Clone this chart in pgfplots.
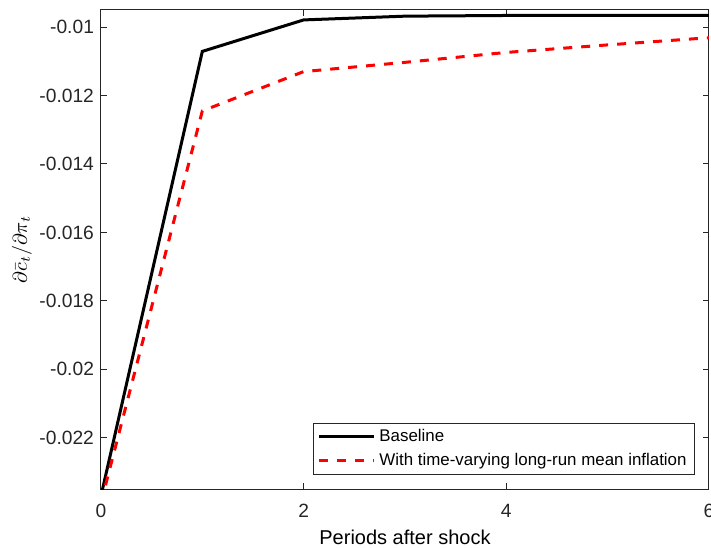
\documentclass[border=0pt]{standalone}
\usepackage{fontspec}
\setmainfont{Liberation Sans}
\usepackage{pgfplots}
\pgfplotsset{compat=1.18}
\definecolor{axgray}{rgb}{0.15,0.15,0.15}
\begin{document}
\begin{tikzpicture}
\begin{axis}[
  at={(0,0)}, anchor=south west,
  scale only axis,
  width=304pt, height=239.5pt,
  xmin=0, xmax=6, ymin=-0.0235, ymax=-0.0095,
  xtick={0,2,4,6},
  ytick={-0.022,-0.02,-0.018,-0.016,-0.014,-0.012,-0.01},
  scaled y ticks=false,
  yticklabel style={/pgf/number format/fixed, /pgf/number format/precision=3},
  xticklabel style={yshift=-4pt},
  /pgf/number format/assume math mode=true,
  tick label style={font=\fontsize{9.6}{11}\selectfont, text=axgray},
  tick align=inside,
  major tick length=3pt,
  axis line style={draw=axgray, line width=0.5pt},
  every tick/.style={draw=axgray, line width=0.5pt},
  xlabel={Periods after shock},
  xlabel style={font=\fontsize{9.4}{11}\selectfont, text=axgray},
  every axis x label/.style={at={(axis description cs:0.5,-0.1002)}, anchor=center},
  ylabel={$\partial\bar{c}_t/\partial\pi_t$},
  every axis y label/.style={at={(axis description cs:-0.13,0.5)}, anchor=center, rotate=90},
  ylabel style={font=\fontsize{10}{12}\selectfont},
  legend style={
    at={(1,0)}, anchor=south east, xshift=-7pt, yshift=7pt,
    font=\fontsize{8.45}{10}\selectfont,
    draw=axgray, line width=0.4pt,
    inner xsep=2pt, inner ysep=1pt,
    row sep=0.5pt,
    cells={anchor=west},
  },
  legend image code/.code={\draw[#1] plot coordinates {(0pt,0pt) (27.5pt,0pt)};},
]
\addplot[black, line width=1.5pt] coordinates {
(0,-0.0237) (1,-0.01071) (2,-0.00979) (3,-0.00968) (4,-0.00966) (5,-0.00966) (6,-0.00966)
};
\addlegendentry{Baseline}
\addplot[red, line width=1.5pt, dash pattern=on 4.5pt off 4.5pt] coordinates {
(0,-0.0239) (1,-0.01245) (2,-0.01130) (3,-0.01103) (4,-0.01074) (5,-0.01052) (6,-0.01031)
};
\addlegendentry{With time-varying long-run mean inflation}
\end{axis}
\pgfresetboundingbox
\path[use as bounding box] (-50.5pt,-29pt) rectangle (305pt,244.5pt);
\end{tikzpicture}
\end{document}
